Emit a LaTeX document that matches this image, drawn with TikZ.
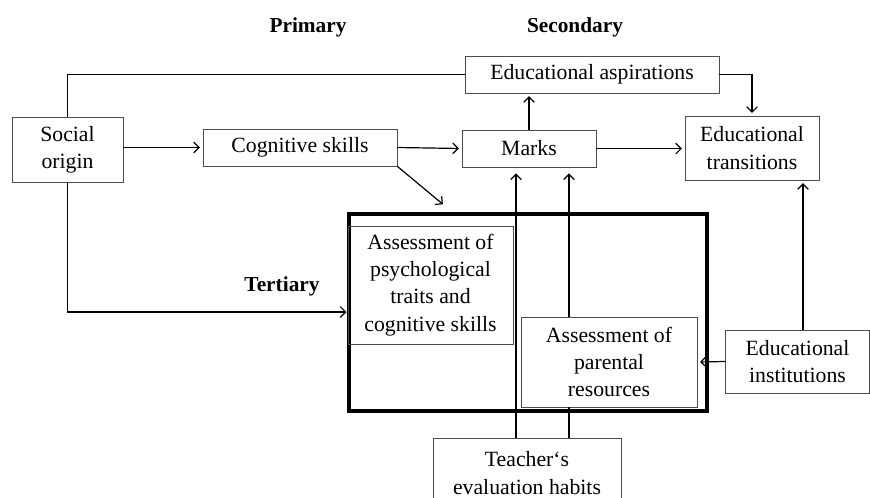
\documentclass[tikz,border=0pt]{standalone}
\usepackage{fontspec}
\setmainfont{Liberation Serif}
\usetikzlibrary{arrows.meta}
\begin{document}
\begin{tikzpicture}[x=0.75pt,y=-0.75pt,
	box/.style={draw=black!70,line width=0.6pt,inner sep=0pt,align=center,font=\fontsize{16.3}{20.5}\selectfont},
	wh/.style 2 args={minimum width=#1*0.75pt,minimum height=#2*0.75pt},
	lbl/.style={font=\fontsize{16}{20}\selectfont\bfseries},
	conn/.style={line width=0.9pt},
	arr/.style={conn,-{Straight Barb[length=4pt,width=8pt]},shorten >=2pt}]
	\useasboundingbox (0,0) rectangle (870,497);
	% stages
	\node[lbl] (primary) at (308,27) {Primary};
	\node[lbl] (secondary) at (575,27) {Secondary};
	\node[lbl] (tertiary) at (282,286) {Tertiary};
	% boxes
	\node[box,wh={111}{65}] (origin) at (67.5,149.5) {Social\\origin};
	\node[box,wh={194}{37}] (cog) at (300,147.5) {Cognitive skills};
	\node[box,wh={134}{37}] (marks) at (529,148.5) {Marks};
	\node[box,wh={254}{37}] (asp) at (592,74.5) {Educational aspirations};
	\node[box,wh={134}{64}] (trans) at (752,148) {Educational\\transitions};
	\node[draw,line width=3pt,wh={358}{197}] (frame) at (527.5,312) {};
	\node[box,wh={165}{118}] (psych) at (430.5,285) {Assessment of\\psychological\\traits and\\cognitive skills};
	\node[box,wh={176}{90}] (parent) at (609,362) {Assessment of\\parental\\resources};
	\node[box,wh={144}{63}] (inst) at (797.5,361.5) {Educational\\institutions};
	\node[box,wh={188}{70}] (teacher) at (527,473) {Teacher‘s\\evaluation habits};
	\coordinate (cogend) at (445,206);
	\coordinate (colA) at (516,0);
	\coordinate (colB) at (569,0);
	\coordinate (colC) at (803,0);
	% connectors
	\draw[conn] (origin.north) |- (asp.west);
	\draw[arr] (origin.east |- cog.west) -- (cog.west);
	\draw[arr] (cog.east) -- (marks.west);
	\draw[arr] (marks.north) -- (asp.south -| marks.north);
	\draw[arr] (asp.east) -| (trans.north);
	\draw[arr] (marks.east) -- (trans.west |- marks.east);
	\draw[arr] (cog.south east) -- (cogend);
	\draw[arr,shorten >=0pt] (origin.south) |- (frame.west);
	\draw[arr,shorten >=4.5pt] (teacher.north -| colA) -- (marks.south -| colA);
	\draw[conn] (teacher.north -| colB) -- (parent.south -| colB);
	\draw[arr,shorten >=4.5pt] (parent.north -| colB) -- (marks.south -| colB);
	\draw[arr] (inst.west) -- (parent.east);
	\draw[arr] (inst.north -| colC) -- (trans.south -| colC);
\end{tikzpicture}
\end{document}
